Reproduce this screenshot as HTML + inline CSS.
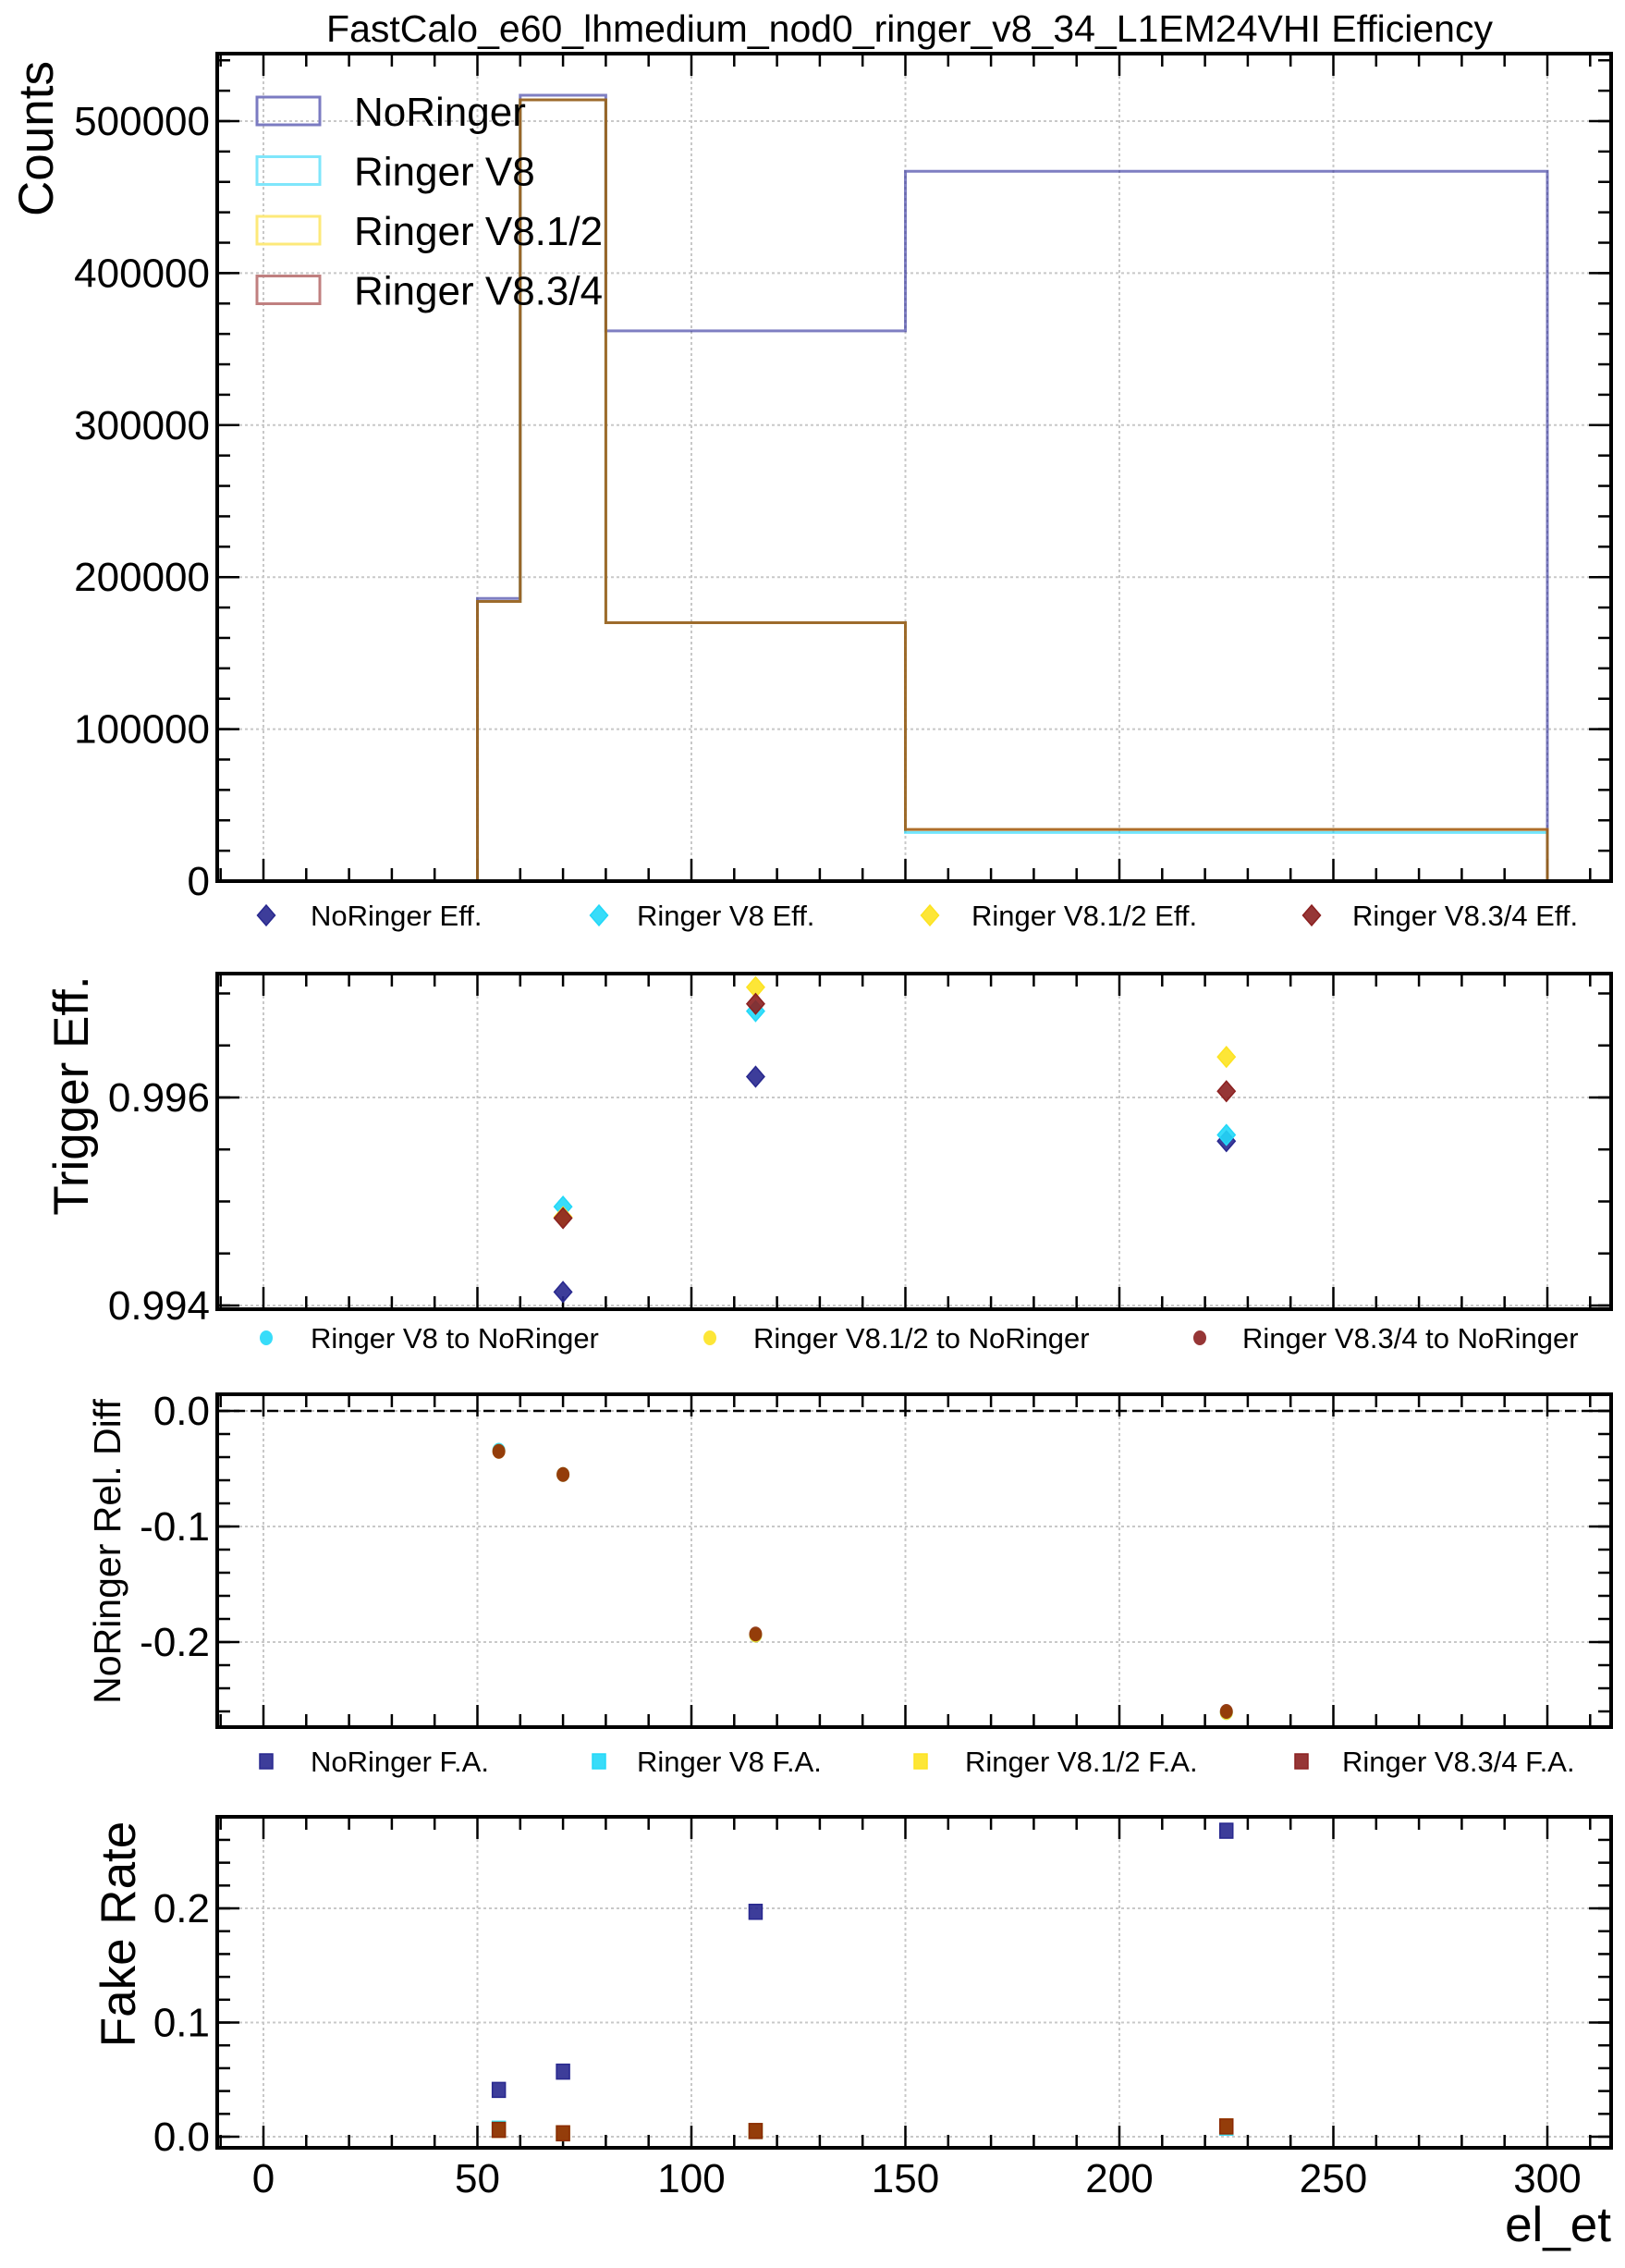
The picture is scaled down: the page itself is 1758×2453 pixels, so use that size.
<!DOCTYPE html>
<html><head><meta charset="utf-8"><style>
html,body{margin:0;padding:0;background:#fff}
svg{display:block}
text{font-family:"Liberation Sans",sans-serif;fill:#000}
</style></head><body>
<svg id="c" width="1758" height="2453" viewBox="0 0 1758 2453" xmlns="http://www.w3.org/2000/svg"></svg>
<script>
// ---- data ----
const binEdges = [50, 60, 80, 150, 300];
const histNoRinger = [186000, 517000, 362000, 467000];
const histV8 = [184000, 514000, 170000, 32000];
const histV812 = [184000, 514000, 170000, 34000];
const histV834 = [184000, 514000, 170000, 34000];

const effX = [70, 115, 225];
const effNoRinger = [0.99413, 0.99620, 0.99558];
const effV8 = [0.99495, 0.99683, 0.99564];
const effV812 = [0.99485, 0.99706, 0.99639];
const effV834 = [0.99484, 0.99690, 0.99606];

const relX = [55, 70, 115, 225];
const relV8 = [-0.034, -0.055, -0.194, -0.261];
const relV812 = [-0.035, -0.055, -0.194, -0.261];
const relV834 = [-0.035, -0.055, -0.193, -0.260];

const faX = [55, 70, 115, 225];
const faNoRinger = [0.041, 0.057, 0.197, 0.268];
const faV8 = [0.007, 0.003, 0.005, 0.008];
const faV812 = [0.006, 0.003, 0.005, 0.009];
const faV834 = [0.006, 0.003, 0.005, 0.009];

const xTicks = [0, 50, 100, 150, 200, 250, 300];
const countTicks = [0, 100000, 200000, 300000, 400000, 500000];
const effTicks = [0.994, 0.996];
const relTicks = [0.0, -0.1, -0.2];
const faTicks = [0.0, 0.1, 0.2];

// ---- layout ----
const NS = "http://www.w3.org/2000/svg";
const svg = document.getElementById('c');
const XL = 235, XR = 1743;
const xs = v => 285 + v * 4.63;
function mk(tag, attrs, parent) {
  const e = document.createElementNS(NS, tag);
  for (const k in attrs) e.setAttribute(k, attrs[k]);
  (parent || svg).appendChild(e);
  return e;
}
function txt(str, x, y, size, anchor, parent) {
  const t = mk('text', {x: x, y: y, 'font-size': size, 'text-anchor': anchor || 'start'}, parent);
  t.textContent = str;
  return t;
}
function panel(name, top, bottom, y0, y1, majors, minorStep, labelFmt) {
  const g = mk('g', {});
  
  
  const ys = v => bottom - (v - y0) / (y1 - y0) * (bottom - top);
  xTicks.forEach(v => mk('line', {x1: xs(v), x2: xs(v), y1: top, y2: bottom, stroke: '#c8c8c8', 'stroke-width': 2, 'stroke-dasharray': '3,3'}, g));
  majors.forEach(v => mk('line', {x1: XL, x2: XR, y1: ys(v), y2: ys(v), stroke: '#c8c8c8', 'stroke-width': 2, 'stroke-dasharray': '3,3'}, g));
  for (let v = -10; v <= 310; v += 10) {
    const X = xs(v); if (X < XL + 2 || X > XR - 2) continue;
    const L = (v % 50 === 0) ? 24 : 14;
    mk('line', {x1: X, x2: X, y1: bottom, y2: bottom - L, stroke: '#000', 'stroke-width': 2.5}, g);
    mk('line', {x1: X, x2: X, y1: top, y2: top + L, stroke: '#000', 'stroke-width': 2.5}, g);
  }
  const start = Math.ceil(y0 / minorStep) * minorStep;
  for (let v = start; v <= y1 + 1e-12; v += minorStep) {
    const Y = ys(v); if (Y < top + 2 || Y > bottom - 2) continue;
    mk('line', {x1: XL, x2: XL + 14, y1: Y, y2: Y, stroke: '#000', 'stroke-width': 2.5}, g);
    mk('line', {x1: XR, x2: XR - 14, y1: Y, y2: Y, stroke: '#000', 'stroke-width': 2.5}, g);
  }
  majors.forEach(v => {
    const Y = ys(v);
    mk('line', {x1: XL, x2: XL + 24, y1: Y, y2: Y, stroke: '#000', 'stroke-width': 2.5}, g);
    mk('line', {x1: XR, x2: XR - 24, y1: Y, y2: Y, stroke: '#000', 'stroke-width': 2.5}, g);
    const t = txt(labelFmt(v), XL - 8, Y + 15, 44, 'end', g);
    
    
  });
  return {g, ys, top, bottom};
}
function frame(p) {
  mk('rect', {x: XL, y: p.top, width: XR - XL, height: p.bottom - p.top, fill: 'none', stroke: '#000', 'stroke-width': 4}, p.g);
}
function diamond(x, y, col, g, name) {
  const e = mk('path', {d: `M${x},${y-11} L${x+9.5},${y} L${x},${y+11} L${x-9.5},${y} Z`, fill: col, stroke: col, 'stroke-width': 1.5, 'fill-opacity': 0.9}, g);
  
  
}
function circle(x, y, col, g, name) {
  const e = mk('ellipse', {cx: x, cy: y, rx: 7, ry: 8, fill: col, 'fill-opacity': 0.9}, g);
  
  
}
function square(x, y, col, g, name) {
  const e = mk('rect', {x: x - 7, y: y - 8, width: 14, height: 16, fill: col, stroke: col, 'stroke-width': 1.5, 'fill-opacity': 0.9}, g);
  
  
}
const C = {nr: '#28288f', v8: '#22d8f8', v812: '#fde321', v834: '#8b2020', rel834: '#8b2a05'};

const title = txt('FastCalo_e60_lhmedium_nod0_ringer_v8_34_L1EM24VHI Efficiency', 984, 45, 41, 'middle');



// ---- panel 1: counts ----
const p1 = panel('counts-panel', 58, 953, 0, 544400, countTicks, 20000, v => String(v));
function hist(vals, col, op, name) {
  let d = `M${xs(binEdges[0])},${p1.ys(0)}`;
  vals.forEach((v, i) => { d += ` L${xs(binEdges[i])},${p1.ys(v)} L${xs(binEdges[i+1])},${p1.ys(v)}`; });
  d += ` L${xs(binEdges[binEdges.length-1])},${p1.ys(0)}`;
  const e = mk('path', {d: d, fill: 'none', stroke: col, 'stroke-width': 3, 'stroke-opacity': op}, p1.g);
  
  
}
hist(histNoRinger, '#2a2a9a', 0.6, 'hist-noringer');
hist(histV8, '#14d4fa', 0.6, 'hist-ringer-v8');
hist(histV812, '#fdd800', 0.6, 'hist-ringer-v8-1-2');
hist(histV834, '#8b3a14', 0.7, 'hist-ringer-v8-3-4');
frame(p1);
const leg1 = mk('g', {});


[['NoRinger', '#7b7bc2'], ['Ringer V8', '#7fe6fb'], ['Ringer V8.1/2', '#fde97a'], ['Ringer V8.3/4', '#c08080']].forEach((it, i) => {
  const y = 120 + i * 64.5;
  mk('rect', {x: 278, y: y - 15, width: 68, height: 30, fill: 'none', stroke: it[1], 'stroke-width': 3}, leg1);
  txt(it[0], 383, y + 16, 44, 'start', leg1);
});
const yl1 = txt('Counts', 0, 0, 53, 'middle');
yl1.setAttribute('transform', 'translate(57,150) rotate(-90)');



function legendRow(name, items, y) {
  const g = mk('g', {});
  
  
  items.forEach(it => {
    it.f(it.mx, y, it.col, g, 'legend-marker');
    txt(it.label, it.tx, y + 11, 31, 'start', g);
  });
}
legendRow('eff-legend', [
  {f: diamond, mx: 288, tx: 336, col: C.nr, label: 'NoRinger Eff.'},
  {f: diamond, mx: 648, tx: 689, col: C.v8, label: 'Ringer V8 Eff.'},
  {f: diamond, mx: 1006, tx: 1051, col: C.v812, label: 'Ringer V8.1/2 Eff.'},
  {f: diamond, mx: 1419, tx: 1463, col: C.v834, label: 'Ringer V8.3/4 Eff.'}], 990);

// ---- panel 2: efficiency ----
const p2 = panel('trigger-eff-panel', 1053, 1416, 0.993964, 0.997191, effTicks, 0.0005, v => v.toFixed(3));
[[effNoRinger, C.nr, 'noringer'], [effV8, C.v8, 'v8'], [effV812, C.v812, 'v8-1-2'], [effV834, C.v834, 'v8-3-4']].forEach(s => {
  s[0].forEach((v, i) => diamond(xs(effX[i]), p2.ys(v), s[1], p2.g, 'eff-point-' + s[2]));
});
frame(p2);
const yl2 = txt('Trigger Eff.', 0, 0, 53, 'middle');
yl2.setAttribute('transform', 'translate(95,1185) rotate(-90)');



legendRow('rel-diff-legend', [
  {f: circle, mx: 288, tx: 336, col: C.v8, label: 'Ringer V8 to NoRinger'},
  {f: circle, mx: 768, tx: 815, col: C.v812, label: 'Ringer V8.1/2 to NoRinger'},
  {f: circle, mx: 1298, tx: 1344, col: C.v834, label: 'Ringer V8.3/4 to NoRinger'}], 1447);

// ---- panel 3: rel diff ----
const p3 = panel('rel-diff-panel', 1508, 1868, -0.2736, 0.0144, relTicks, 0.02, v => v.toFixed(1));
mk('line', {x1: XL, x2: XR, y1: p3.ys(0), y2: p3.ys(0), stroke: '#000', 'stroke-width': 2.5, 'stroke-dasharray': '12,6'}, p3.g);
[[relV8, C.v8, 'v8'], [relV812, C.v812, 'v8-1-2'], [relV834, C.rel834, 'v8-3-4']].forEach(s => {
  s[0].forEach((v, i) => circle(xs(relX[i]), p3.ys(v), s[1], p3.g, 'rel-point-' + s[2]));
});
frame(p3);
const yl3 = txt('NoRinger Rel. Diff', 0, 0, 41, 'middle');
yl3.setAttribute('transform', 'translate(130,1678) rotate(-90)');



legendRow('fake-rate-legend', [
  {f: square, mx: 288, tx: 336, col: C.nr, label: 'NoRinger F.A.'},
  {f: square, mx: 648, tx: 689, col: C.v8, label: 'Ringer V8 F.A.'},
  {f: square, mx: 996, tx: 1044, col: C.v812, label: 'Ringer V8.1/2 F.A.'},
  {f: square, mx: 1408, tx: 1452, col: C.v834, label: 'Ringer V8.3/4 F.A.'}], 1905);

// ---- panel 4: fake rate ----
const p4 = panel('fake-rate-panel', 1965, 2323, -0.00972, 0.2802, faTicks, 0.02, v => v.toFixed(1));
[[faNoRinger, C.nr, 'noringer'], [faV8, C.v8, 'v8'], [faV812, C.v812, 'v8-1-2'], [faV834, C.rel834, 'v8-3-4']].forEach(s => {
  s[0].forEach((v, i) => square(xs(faX[i]), p4.ys(v), s[1], p4.g, 'fa-point-' + s[2]));
});
frame(p4);
const yl4 = txt('Fake Rate', 0, 0, 53, 'middle');
yl4.setAttribute('transform', 'translate(146,2092) rotate(-90)');



xTicks.forEach(v => {
  const t = txt(String(v), xs(v), 2371, 44, 'middle');
  
  
});
const xl = txt('el_et', 1743, 2424, 53, 'end');


</script>
</body></html>
